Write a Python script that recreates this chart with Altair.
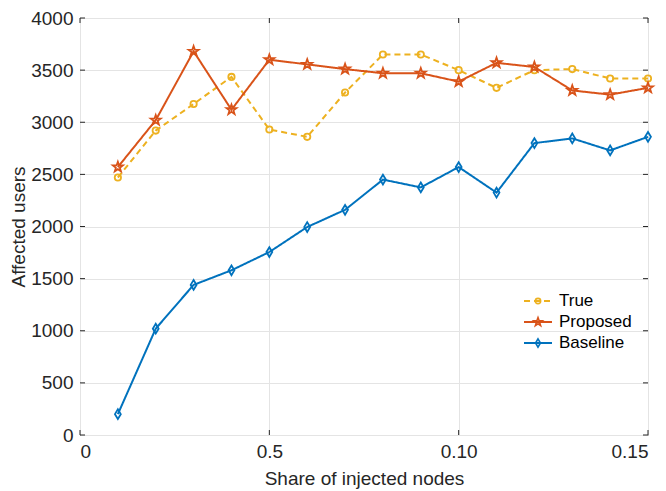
import altair as alt
import pandas as pd

# ---- data ----
share = [0.01, 0.02, 0.03, 0.04, 0.05, 0.06, 0.07, 0.08, 0.09, 0.10, 0.11, 0.12, 0.13, 0.14, 0.15]
true_vals = [2470, 2920, 3175, 3435, 2930, 2860, 3285, 3650, 3650, 3500, 3330, 3500, 3510, 3420, 3420]
proposed_vals = [2570, 3020, 3680, 3120, 3600, 3555, 3510, 3470, 3470, 3390, 3570, 3530, 3305, 3265, 3330]
baseline_vals = [200, 1020, 1440, 1580, 1755, 1995, 2160, 2450, 2375, 2570, 2325, 2800, 2845, 2730, 2860]

series_names = ["True", "Proposed", "Baseline"]
series_values = [true_vals, proposed_vals, baseline_vals]
colors = ["#EDB120", "#D95319", "#0072BD"]

x_ticks = [0, 0.05, 0.10, 0.15]
x_tick_labels = ["0", "0.5", "0.10", "0.15"]
y_ticks = [0, 500, 1000, 1500, 2000, 2500, 3000, 3500, 4000]

# ---- styles ----
W, H = 568, 417
FONT = "Liberation Sans"
INK = "#262626"
STAR = ("M0,-1L0.235,-0.324L0.951,-0.309L0.380,0.124L0.588,0.809L0,0.4"
        "L-0.588,0.809L-0.380,0.124L-0.951,-0.309L-0.235,-0.324Z")
DIAMOND = "M0,-1L0.6,0L0,1L-0.6,0Z"
shapes = ["circle", STAR, DIAMOND]
sizes = [40, 110, 95]
dashes = [[6, 4], [1, 0], [1, 0]]

xscale = alt.Scale(domain=[0, 0.15], nice=False, zero=False)
yscale = alt.Scale(domain=[0, 4000], nice=False)

label_expr = "[" + ",".join(f"'{l}'" for l in x_tick_labels) + "][round(datum.value/0.05)]"
xaxis = alt.Axis(values=x_ticks, labelExpr=label_expr, title="Share of injected nodes",
                 ticks=False, domain=False, labelPadding=7, titlePadding=8)
yaxis = alt.Axis(values=y_ticks, format="d", title="Affected users", ticks=False, domain=False,
                 labelPadding=7, titlePadding=2)

layers = []

# inward tick marks on all four sides
yt = pd.DataFrame({"v": y_ticks})
xt = pd.DataFrame({"v": x_ticks})
for x1, x2 in [(0, 5), (W - 5, W)]:
    layers.append(alt.Chart(yt).mark_rule(color=INK, strokeWidth=1).encode(
        y=alt.Y("v:Q", scale=yscale, axis=yaxis), x=alt.value(x1), x2=alt.value(x2)))
for y1, y2 in [(H - 5, H), (0, 5)]:
    layers.append(alt.Chart(xt).mark_rule(color=INK, strokeWidth=1).encode(
        x=alt.X("v:Q", scale=xscale, axis=xaxis), y=alt.value(y1), y2=alt.value(y2)))

for name, vals, col, shp, sz, dash in zip(series_names, series_values, colors, shapes, sizes, dashes):
    d = pd.DataFrame({"share": share, "users": vals, "series": name})
    base = alt.Chart(d).encode(
        x=alt.X("share:Q", scale=xscale, axis=xaxis),
        y=alt.Y("users:Q", scale=yscale, axis=yaxis),
    )
    layers.append(base.mark_line(color=col, strokeWidth=2, strokeDash=dash))
    layers.append(base.mark_point(color=col, shape=shp, size=sz, filled=False, strokeWidth=1.8, opacity=1))

# manual legend (inside, lower right)
leg_x1, leg_x2, leg_tx, leg_y0, leg_dy = 444, 472, 479, 283, 21
for i, (name, col, shp, sz, dash) in enumerate(zip(series_names, colors, shapes, sizes, dashes)):
    ld = pd.DataFrame({"series": [name]})
    yy = leg_y0 + i * leg_dy
    layers.append(alt.Chart(ld).mark_rule(color=col, strokeWidth=2, strokeDash=dash).encode(
        x=alt.value(leg_x1), x2=alt.value(leg_x2), y=alt.value(yy)))
    layers.append(alt.Chart(ld).mark_point(color=col, shape=shp, size=sz * 0.7, filled=False,
                                           strokeWidth=1.6, opacity=1).encode(
        x=alt.value((leg_x1 + leg_x2) / 2), y=alt.value(yy)))
    layers.append(alt.Chart(ld).mark_text(align="left", baseline="middle", font=FONT,
                                          fontSize=17, color="#000000").encode(
        x=alt.value(leg_tx), y=alt.value(yy), text="series:N"))

chart = alt.layer(*layers).properties(
    width=W, height=H,
    autosize=alt.AutoSizeParams(type="none"),
    padding={"left": 72, "top": 10, "right": 8, "bottom": 56},
).configure_view(
    stroke=INK, strokeWidth=1
).configure_axis(
    labelFont=FONT, titleFont=FONT, labelFontSize=19, titleFontSize=19,
    labelColor=INK, titleColor=INK, titleFontWeight="normal",
    gridColor="#e4e4e4", gridWidth=1,
)

chart.save("out.html", embed_options={"renderer": "svg", "actions": False})
